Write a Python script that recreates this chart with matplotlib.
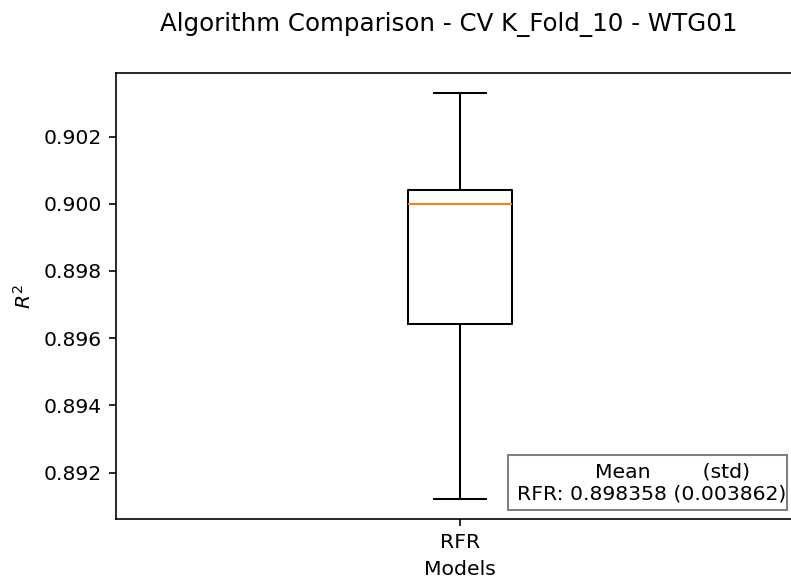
import matplotlib
matplotlib.use('Agg')
import matplotlib.pyplot as plt
from matplotlib.patches import Rectangle

# cross-validation R^2 summary for each model (10 folds)
models = ['RFR']
r2_whislo = [0.89122]
r2_q1 = [0.89643]
r2_med = [0.90000]
r2_q3 = [0.90040]
r2_whishi = [0.90329]
r2_mean = [0.898358]
r2_std = [0.003862]

stats = []
for i, name in enumerate(models):
    stats.append(dict(label=name, whislo=r2_whislo[i], q1=r2_q1[i], med=r2_med[i],
                      q3=r2_q3[i], whishi=r2_whishi[i], fliers=[]))

dpi = 147
fig = plt.figure(figsize=(791 / dpi, 579 / dpi), dpi=dpi)
ax = fig.add_axes([116 / 791, 60 / 579, 688 / 791, 446 / 579])
ax.bxp(stats, showfliers=False)

fig.suptitle('Algorithm Comparison - CV K_Fold_10 - WTG01', x=449 / 791, y=0.98)
ax.set_xlabel('Models')
ax.set_ylabel('$R^2$')

# mean / std summary box
lines = ['            Mean        (std)']
for i, name in enumerate(models):
    lines.append('%s: %f (%f)' % (name, r2_mean[i], r2_std[i]))
fig.patches.append(Rectangle((508 / 791, 1 - 510 / 579), 279 / 791, 55 / 579,
                             transform=fig.transFigure, facecolor='white',
                             edgecolor='0.5', linewidth=1.0, zorder=5))
fig.text(517 / 791, 1 - 483 / 579, '\n'.join(lines), ha='left', va='center', zorder=6)

fig.savefig('out.png', dpi=dpi)
